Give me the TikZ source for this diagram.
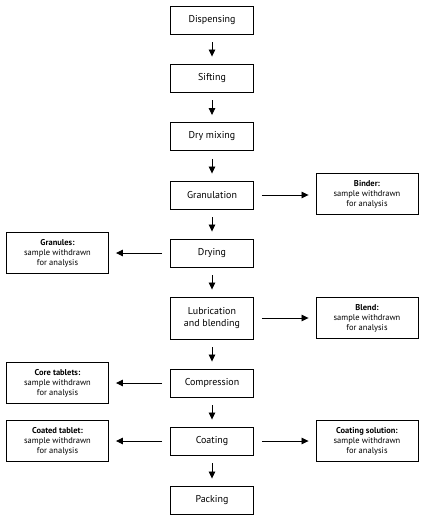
\documentclass[tikz,border=0pt]{standalone}
\usepackage{fontspec}
\setmainfont{PT Sans}
\usetikzlibrary{arrows.meta}
\begin{document}
\begin{tikzpicture}[x=1bp,y=-1bp,
  mainbox/.style={draw,line width=0.9bp,minimum width=83bp,minimum height=28bp,inner sep=1bp,align=center,font=\fontsize{10}{12}\selectfont},
  sidebox/.style={draw,line width=0.9bp,minimum width=102bp,minimum height=41bp,inner sep=1bp,align=center,font=\fontsize{8.5}{10}\selectfont},
  flow/.style={line width=0.8bp,-{Triangle[length=7bp,width=6.5bp]},shorten <=8bp,shorten >=7bp}]
\useasboundingbox (0,0) rectangle (433,521);
\node[mainbox] (disp) at (212,20) {Dispensing};
\node[mainbox] (sift) at (212,78) {Sifting};
\node[mainbox] (dry) at (212,136.5) {Dry mixing};
\node[mainbox] (gran) at (212,195) {Granulation};
\node[mainbox] (drying) at (212,253) {Drying};
\node[mainbox,minimum height=42bp] (lub) at (212,318) {Lubrication\\and blending};
\node[mainbox] (comp) at (212,383) {Compression};
\node[mainbox] (coat) at (212,441) {Coating};
\node[mainbox] (pack) at (212,500) {Packing};
\node[sidebox] (binder) at (367,194) {\textbf{Binder:}\\sample withdrawn\\for analysis};
\node[sidebox] (granules) at (57.5,253) {\textbf{Granules:}\\sample withdrawn\\for analysis};
\node[sidebox] (blend) at (367,318) {\textbf{Blend:}\\sample withdrawn\\for analysis};
\node[sidebox] (core) at (57.5,383) {\textbf{Core tablets:}\\sample withdrawn\\for analysis};
\node[sidebox] (coated) at (57.5,441) {\textbf{Coated tablet:}\\sample withdrawn\\for analysis};
\node[sidebox] (coatsol) at (367,441) {\textbf{Coating solution:}\\sample withdrawn\\for analysis};
\draw[flow] (disp) -- (sift);
\draw[flow] (sift) -- (dry);
\draw[flow] (dry) -- (gran);
\draw[flow] (gran) -- (drying);
\draw[flow] (drying) -- (lub);
\draw[flow] (lub) -- (comp);
\draw[flow] (comp) -- (coat);
\draw[flow] (coat) -- (pack);
\draw[flow] (gran.east) -- (gran.east -| binder.west);
\draw[flow] (drying) -- (granules);
\draw[flow] (lub) -- (blend);
\draw[flow] (comp) -- (core);
\draw[flow] (coat) -- (coated);
\draw[flow] (coat) -- (coatsol);
\end{tikzpicture}
\end{document}
